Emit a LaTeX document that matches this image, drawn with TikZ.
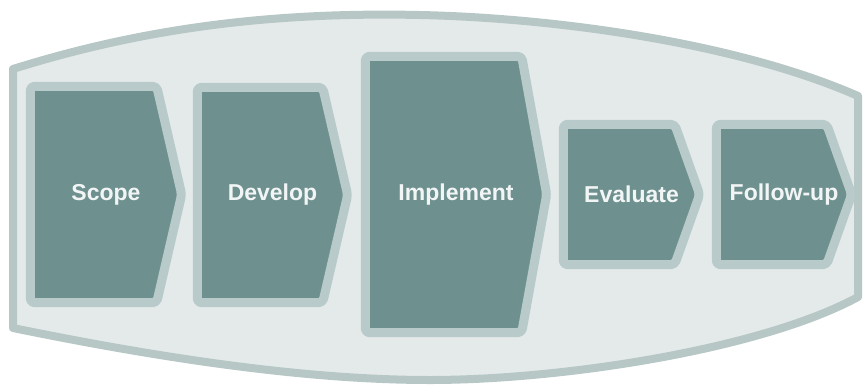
\documentclass[tikz,border=0pt]{standalone}
\usepackage{fontspec}
\setsansfont{Liberation Sans}
\usetikzlibrary{backgrounds}
\definecolor{lensfill}{HTML}{E4EAEA}
\definecolor{lensedge}{HTML}{B6C7C5}
\definecolor{stagefill}{HTML}{6E918F}
\definecolor{stageedge}{HTML}{B9CACA}
\definecolor{stagetext}{HTML}{F2F5F5}
\tikzset{
  stage/.style={inner sep=0pt, text=stagetext, font=\sffamily\bfseries\fontsize{23}{24}\selectfont},
  stageshape/.style={fill=stagefill, draw=stageedge, line width=9pt, rounded corners=4pt, line join=round},
}
\begin{document}
\begin{tikzpicture}[x=1pt,y=-1pt]
  \useasboundingbox (0,0) rectangle (864,388);
  \node[stage, minimum width=151pt, minimum height=216pt] (scope) at (106,194.5) {Scope};
  \node[stage, minimum width=150pt, minimum height=215pt] (develop) at (272.5,195) {Develop};
  \node[stage, minimum width=181pt, minimum height=276pt] (implement) at (456,194.5) {Implement};
  \node[stage, minimum width=136pt, minimum height=140pt] (evaluate) at (631.5,194.5) {Evaluate};
  \node[stage, minimum width=135pt, minimum height=140pt] (followup) at (784,194.5) {Follow-up};
  \begin{scope}[on background layer]
    \draw[fill=lensfill, draw=lensedge, line width=8pt, line join=round]
      (13,69) .. controls (150,26) and (280,12) .. (420,15)
      .. controls (560,18) and (740,44) .. (858,96) -- (858,297)
      .. controls (760,350) and (560,380) .. (430,380)
      .. controls (300,380) and (150,356) .. (13,328) -- cycle;
    \foreach \n in {scope,develop,implement,evaluate,followup}
      \draw[stageshape] (\n.north west) -- ([xshift=-25pt]\n.north east) -- (\n.east)
        -- ([xshift=-25pt]\n.south east) -- (\n.south west) -- cycle;
  \end{scope}
\end{tikzpicture}
\end{document}
